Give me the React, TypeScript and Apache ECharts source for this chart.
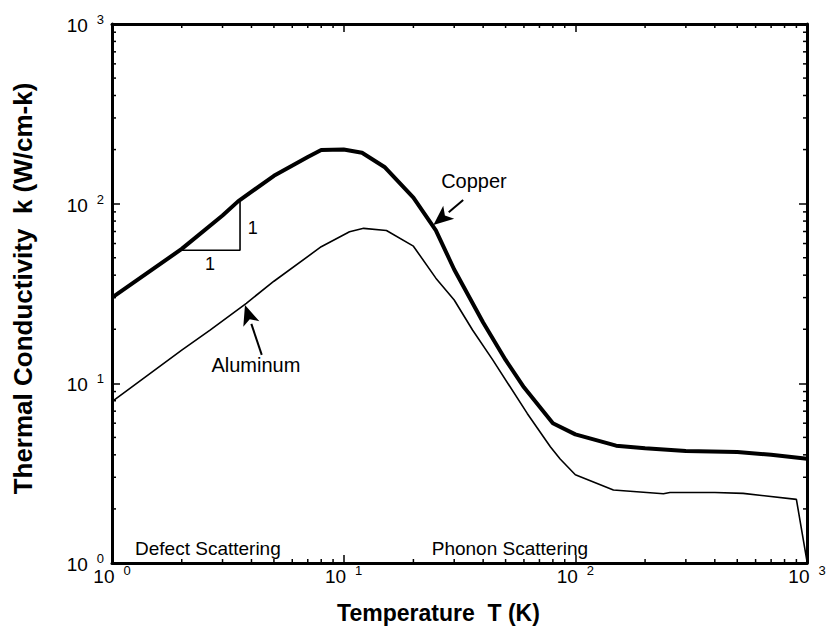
import React, { useEffect, useRef } from 'react';
import * as echarts from 'echarts';

// ---- data ----
const copperT = [1, 2, 3, 3.5, 5, 7, 8, 10, 12, 15, 20, 25, 30, 40, 50, 60, 80, 100, 150, 200, 300, 500, 700, 1000];
const copperK = [30, 56, 86, 103, 143, 182, 199, 200, 192, 160, 108, 71, 43, 21.8, 13.5, 9.5, 6.0, 5.2, 4.5, 4.35, 4.2, 4.15, 4.0, 3.8];

const aluminumT = [1, 2, 2.65, 3.8, 5, 8, 10.6, 12.2, 15.3, 20, 25, 30, 36, 44, 62, 78, 86, 100, 146, 240, 256, 400, 530, 900, 1000];
const aluminumK = [7.9, 15.3, 19.8, 27.9, 37, 57.6, 69.8, 72.9, 70.9, 58, 38.5, 29.1, 19.8, 13.5, 6.8, 4.44, 3.79, 3.1, 2.55, 2.43, 2.47, 2.47, 2.44, 2.26, 1.02];

const slopeTriangle = [[1.96, 55], [3.57, 55], [3.57, 103]];

const minorTickMultipliers = [2, 3, 4, 5, 6, 7, 8, 9];
const minorTickDecades = [1, 10, 100];

const xAxisTitle = 'Temperature  T (K)';
const yAxisTitle = 'Thermal Conductivity  k (W/cm-k)';

// annotation anchors in data space [T, k]
const copperLabelAt = [36.5, 134];
const copperArrow = { from: [32.8, 104.7], to: [24.4, 76] };
const aluminumLabelAt = [4.18, 12.6];
const aluminumArrow = { from: [4.43, 14.4], to: [3.75, 27.3] };
const slopeLabelH = [2.65, 46];
const slopeLabelV = [4.05, 73];
const defectLabelAt = [1.257, 1.2];
const phononLabelAt = [24, 1.2];

const FONT = "'Liberation Sans', Arial, Helvetica, sans-serif";

export default function App() {
  const ref = useRef<HTMLDivElement>(null);
  useEffect(() => {
    document.body.style.margin = '0';
    const chart = echarts.init(ref.current!, null, { renderer: 'svg' });

    const minorTicks: number[] = [];
    minorTickDecades.forEach((d) => minorTickMultipliers.forEach((m) => minorTicks.push(d * m)));
    const tickData = [...minorTicks.map((v) => [v, 1]), ...minorTicks.map((v) => [v, 2])];

    const expLabel = (v: number) => `{b|10}{e|${Math.round(Math.log10(v))}}`;
    const rich = {
      b: { fontSize: 19, fontFamily: FONT, color: '#000', lineHeight: 22, padding: [10, 0, 0, 0], verticalAlign: 'bottom' },
      e: { fontSize: 13, fontFamily: FONT, color: '#000', lineHeight: 13, verticalAlign: 'top', padding: [0, 0, 0, 9] },
    };
    const axisLine = { show: true, lineStyle: { color: '#000', width: 3 } };
    const axisTick = { show: true, inside: true, length: 8, lineStyle: { color: '#000', width: 1.5 } };

    const copper = copperT.map((t, i) => [t, copperK[i]]);
    const aluminum = aluminumT.map((t, i) => [t, aluminumK[i]]);

    chart.setOption({
      animation: false,
      backgroundColor: '#fff',
      grid: { left: 112, top: 24, right: 26, bottom: 70, containLabel: false },
      xAxis: [
        {
          type: 'log', logBase: 10, min: 1, max: 1000, position: 'bottom',
          axisLine, axisTick, splitLine: { show: false }, minorTick: { show: false },
          axisLabel: { formatter: expLabel, rich, margin: 1 },
          name: xAxisTitle, nameLocation: 'middle', nameGap: 38,
          nameTextStyle: { fontFamily: FONT, fontWeight: 'bold', fontSize: 23, color: '#000', padding: [0, 42, 0, 0] },
        },
        {
          type: 'log', logBase: 10, min: 1, max: 1000, position: 'top',
          axisLine, axisTick, splitLine: { show: false }, axisLabel: { show: false },
        },
      ],
      yAxis: [
        {
          type: 'log', logBase: 10, min: 1, max: 1000, position: 'left',
          axisLine, axisTick, splitLine: { show: false },
          axisLabel: { formatter: expLabel, rich, margin: 8 },
          name: yAxisTitle, nameLocation: 'middle', nameGap: 76, nameRotate: 90,
          nameTextStyle: { fontFamily: FONT, fontWeight: 'bold', fontSize: 26, color: '#000', padding: [0, 0, 0, 10] },
        },
        {
          type: 'log', logBase: 10, min: 1, max: 1000, position: 'right',
          axisLine, axisTick, splitLine: { show: false }, axisLabel: { show: false },
        },
      ],
      series: [
        {
          type: 'custom', silent: true, clip: false, data: tickData,
          renderItem: (params: any, api: any) => {
            const v = api.value(0);
            const kind = api.value(1);
            const cs = params.coordSys;
            const st = { stroke: '#000', lineWidth: 1.5 };
            if (kind === 1) {
              const px = api.coord([v, 10])[0];
              return {
                type: 'group',
                children: [
                  { type: 'line', shape: { x1: px, y1: cs.y + cs.height, x2: px, y2: cs.y + cs.height - 4 }, style: st },
                  { type: 'line', shape: { x1: px, y1: cs.y, x2: px, y2: cs.y + 4 }, style: st },
                ],
              };
            }
            const py = api.coord([10, v])[1];
            return {
              type: 'group',
              children: [
                { type: 'line', shape: { x1: cs.x, y1: py, x2: cs.x + 4, y2: py }, style: st },
                { type: 'line', shape: { x1: cs.x + cs.width, y1: py, x2: cs.x + cs.width - 4, y2: py }, style: st },
              ],
            };
          },
          z: 1,
        },
        {
          name: 'Copper', type: 'line', data: copper, showSymbol: false, symbol: 'none',
          lineStyle: { color: '#000', width: 4 }, z: 3,
        },
        {
          name: 'Aluminum', type: 'line', data: aluminum, showSymbol: false, symbol: 'none',
          lineStyle: { color: '#000', width: 1.6 }, z: 3,
        },
        {
          name: 'slope', type: 'line', data: slopeTriangle, showSymbol: false, symbol: 'none',
          lineStyle: { color: '#000', width: 1.6 }, z: 2,
        },
      ],
    });

    const px = (p: number[]) => chart.convertToPixel({ gridIndex: 0 }, p) as number[];
    const textStyle = (fs: number) => ({ fill: '#000', fontFamily: FONT, fontSize: fs });
    const arrow = (from: number[], to: number[]) => {
      const a = px(from);
      const b = px(to);
      const dx = b[0] - a[0];
      const dy = b[1] - a[1];
      const len = Math.hypot(dx, dy);
      const ux = dx / len;
      const uy = dy / len;
      const headLen = 20;
      const headW = 8.5;
      const bx = b[0] - ux * headLen;
      const by = b[1] - uy * headLen;
      return [
        { type: 'line', shape: { x1: a[0], y1: a[1], x2: bx, y2: by }, style: { stroke: '#000', lineWidth: 2 } },
        {
          type: 'polygon',
          shape: { points: [[b[0], b[1]], [bx - uy * headW, by + ux * headW], [b[0] - ux * headLen * 0.75, b[1] - uy * headLen * 0.75], [bx + uy * headW, by - ux * headW]] },
          style: { fill: '#000' },
        },
      ];
    };
    const label = (at: number[], text: string, fs: number, align = 'center') => {
      const p = px(at);
      return { type: 'text', x: p[0], y: p[1], style: { ...textStyle(fs), text, align, verticalAlign: 'middle' } };
    };

    chart.setOption({
      graphic: [
        label(copperLabelAt, 'Copper', 20),
        ...arrow(copperArrow.from, copperArrow.to),
        label(aluminumLabelAt, 'Aluminum', 20),
        ...arrow(aluminumArrow.from, aluminumArrow.to),
        label(slopeLabelH, '1', 18),
        label(slopeLabelV, '1', 18),
        label(defectLabelAt, 'Defect Scattering', 19, 'left'),
        label(phononLabelAt, 'Phonon Scattering', 19, 'left'),
      ],
    });

    return () => chart.dispose();
  }, []);
  return <div ref={ref} style={{ width: 833, height: 633 }} />;
}
